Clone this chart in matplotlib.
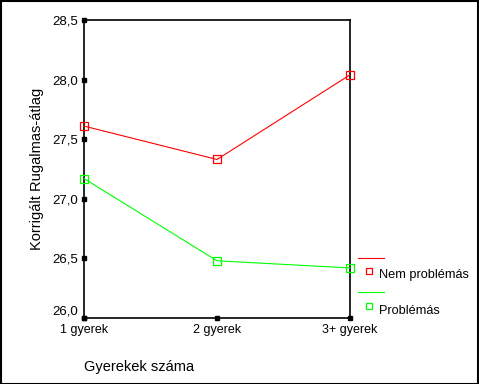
import matplotlib as ml
ml.use("Agg")
import matplotlib.pyplot as plt
import matplotlib.transforms as mtransforms
from matplotlib.lines import Line2D
from matplotlib.patches import Rectangle

plt.rcParams['font.family'] = ['Liberation Sans', 'DejaVu Sans']

# data
categories = ['1 gyerek', '2 gyerek', '3+ gyerek']
nem_problemas = [27.61, 27.33, 28.04]
problemas = [27.17, 26.48, 26.42]
yticks = [26.0, 26.5, 27.0, 27.5, 28.0, 28.5]
ytick_labels = ['26,0', '26,5', '27,0', '27,5', '28,0', '28,5']
series_names = ['Nem problémás', 'Problémás']
series_colors = ['#ff0000', '#00ff00']

W, H = 479, 384
fig = plt.figure(figsize=(W / 100, H / 100), dpi=100)
fig.patch.set_facecolor('white')
# outer frame
fig.add_artist(Rectangle((0.5 / W, 0.5 / H), 1 - 1.5 / W, 1 - 1.5 / H,
                         transform=fig.transFigure, fill=False,
                         edgecolor='black', linewidth=1.5))

ax = fig.add_axes([84 / W, 1 - 318 / H, 266 / W, 298 / H])
x = list(range(len(categories)))
for vals, c in zip([nem_problemas, problemas], series_colors):
    ax.plot(x, vals, color=c, linewidth=0.8, marker='s', markersize=5.5,
            markerfacecolor='none', markeredgecolor=c, markeredgewidth=0.9,
            clip_on=False, zorder=3)

ax.set_xlim(0, 2)
ax.set_ylim(26.0, 28.5)
ax.set_xticks(x)
ax.set_xticklabels(categories, fontsize=9)
ax.set_yticks(yticks)
ax.set_yticklabels(ytick_labels, fontsize=9.5)
ax.tick_params(length=0, pad=4)
for s in ax.spines.values():
    s.set_linewidth(1.2)

# lowest y label sits a bit higher, as in the SPSS output
lbl = ax.get_yticklabels()[0]
lbl.set_transform(lbl.get_transform() +
                  mtransforms.ScaledTranslation(0, 8 / 100, fig.dpi_scale_trans))

# square tick dots
ax.plot([0] * len(yticks), yticks, 's', color='black', markersize=2.2,
        clip_on=False, zorder=4)
ax.plot(x, [26.0] * len(x), 's', color='black', markersize=2.2,
        clip_on=False, zorder=4)

ax.set_ylabel('Korrigált Rugalmas-átlag', fontsize=10.5, labelpad=6)
fig.text(84 / W, 1 - 367 / H, 'Gyerekek száma', fontsize=10.5,
         ha='left', va='center')

# legend drawn by hand, SPSS style
rows = [(258, 271, 275), (292, 306, 311)]
for (ly, my, ty), name, c in zip(rows, series_names, series_colors):
    fig.add_artist(Line2D([358 / W, 384 / W], [1 - ly / H, 1 - ly / H],
                          transform=fig.transFigure, color=c, linewidth=0.8))
    fig.add_artist(Line2D([369 / W], [1 - my / H], transform=fig.transFigure,
                          marker='s', markersize=5, markerfacecolor='none',
                          markeredgecolor=c, markeredgewidth=0.9))
    fig.text(379 / W, 1 - ty / H, name, fontsize=9.2, ha='left', va='center')

fig.savefig('out.png', dpi=100)
